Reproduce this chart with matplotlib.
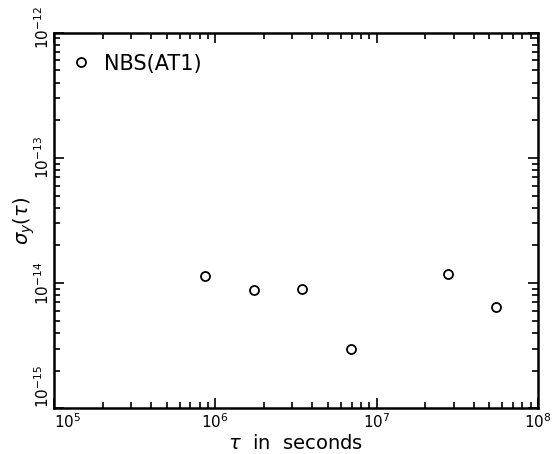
import matplotlib
matplotlib.use("Agg")
import matplotlib.pyplot as plt
import matplotlib.transforms as mtransforms
from matplotlib.ticker import LogLocator, NullFormatter

# Данные: тау (секунды) и сигма_y(тау) для NBS(AT1)
tau = [8.64e5, 1.728e6, 3.456e6, 6.912e6, 2.765e7, 5.53e7]
sigma = [1.14e-14, 8.8e-15, 9.05e-15, 3.0e-15, 1.19e-14, 6.45e-15]

xticks = [1e5, 1e6, 1e7, 1e8]
xlabels = [r'$10^5$', r'$10^6$', r'$10^7$', r'$10^8$']
yticks = [1e-15, 1e-14, 1e-13, 1e-12]
ylabels = [r'$10^{-15}$', r'$10^{-14}$', r'$10^{-13}$', r'$10^{-12}$']

plt.rcParams['mathtext.fontset'] = 'dejavusans'

fig = plt.figure(figsize=(5.52, 4.54), dpi=100)
ax = fig.add_axes([0.0978, 0.1007, 0.8768, 0.8273])

ax.plot(tau, sigma, 'o', mfc='none', mec='black', ms=6.5, mew=1.3,
        label='NBS(AT1)')

ax.set_xscale('log')
ax.set_yscale('log')
ax.set_xlim(1e5, 1e8)
ax.set_ylim(1e-15, 1e-12)

ax.set_xticks(xticks, labels=xlabels)
ax.set_yticks(yticks, labels=ylabels)
ax.xaxis.set_minor_locator(LogLocator(base=10, subs=range(2, 10)))
ax.yaxis.set_minor_locator(LogLocator(base=10, subs=range(2, 10)))
ax.xaxis.set_minor_formatter(NullFormatter())
ax.yaxis.set_minor_formatter(NullFormatter())

ax.tick_params(which='both', direction='in', top=True, right=True,
               labelsize=11, width=1.2)
ax.tick_params(which='major', length=7, pad=3)
ax.tick_params(which='minor', length=4)
ax.tick_params(axis='y', which='major', pad=1.5)
for lab in ax.get_yticklabels():
    lab.set_rotation(90)
    lab.set_va('center')
ax.get_yticklabels()[0].set_va('bottom')
# верхнюю подпись чуть сдвигаем вверх, как в оригинале
top_lab = ax.get_yticklabels()[-1]
top_lab.set_transform(top_lab.get_transform() +
                      mtransforms.ScaledTranslation(0, 5 / 100, fig.dpi_scale_trans))
ax.get_xticklabels()[0].set_ha('left')

for sp in ax.spines.values():
    sp.set_linewidth(1.8)

ax.set_xlabel(r'$\tau$  in  seconds', fontsize=14, labelpad=2)
ax.set_ylabel(r'$\sigma_y(\tau)$', fontsize=14)
ax.yaxis.set_label_coords(-0.036, 0.5)

ax.legend(loc='upper left', frameon=False, fontsize=15, handlelength=0.6,
          handletextpad=0.8, borderaxespad=0.6)

fig.savefig('out.png', dpi=100)
